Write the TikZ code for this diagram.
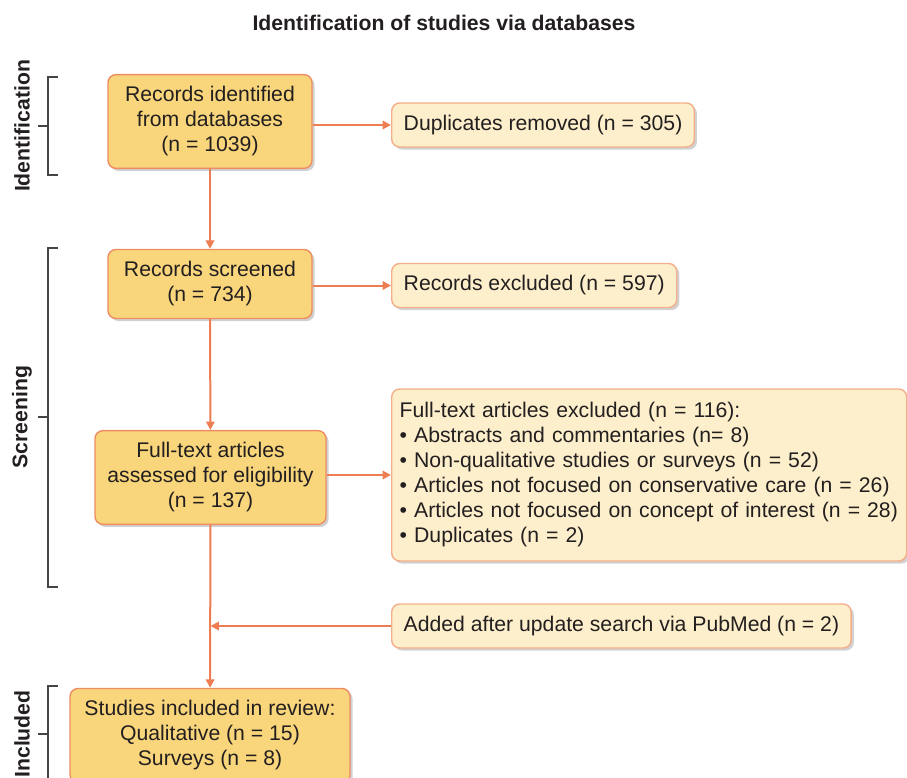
\documentclass[tikz,border=0pt]{standalone}
\usepackage{fontspec}
\setmainfont{Liberation Sans}
\usepackage{xcolor}
\usepackage{tikz}
\usetikzlibrary{positioning,arrows.meta,shadows,calc}
\definecolor{prOrange}{HTML}{EE7D52}
\definecolor{prMain}{HTML}{F9D67B}
\definecolor{prMainD}{HTML}{EF8C62}
\definecolor{prSide}{HTML}{FDEFCB}
\definecolor{prSideD}{HTML}{F4AE8A}
\definecolor{prText}{HTML}{231F20}
\definecolor{prGray}{HTML}{444444}
\tikzset{
  pr-box/.style={
    line width=0.7pt, rounded corners=4pt,
    font=\fontsize{10.6}{12.5}\selectfont, text=prText,
    inner sep=6pt,
    drop shadow={shadow xshift=1.3pt, shadow yshift=-1.3pt,
      fill=black, opacity=0.18}
  },
  pr-main/.style={pr-box, draw=prMainD, fill=prMain, align=center},
  pr-side/.style={pr-box, draw=prSideD, fill=prSide, align=left,
    anchor=west, minimum height=22pt},
  pr-flow/.style={-{Triangle[length=4.2pt,width=4.2pt]},
    line width=1pt, draw=prOrange},
  pr-bracket/.style={draw=prGray, line width=0.6pt},
  pr-phase/.style={font=\fontsize{10.6}{12.5}\selectfont\bfseries,
    text=prText, rotate=90},
  pr-title/.style={font=\fontsize{10.6}{12.5}\selectfont\bfseries,
    text=prText}
}
\begin{document}
\begin{tikzpicture}[x=0.5pt, y=-0.5pt]
\useasboundingbox (0,0) rectangle (907,778);

% Title
\node[pr-title, anchor=base] (title) at (444,30)
  {Identification of studies via databases};

% Phases
\node[pr-phase] (ident) at (22,126) {Identification};
\node[pr-phase] (screen) at (22,417) {Screening};
\node[pr-phase] (incl) at (22,734) {Included};
\draw[pr-bracket] (58,77) -- (48,77) -- (48,175) -- (58,175);
\draw[pr-bracket] (38,126) -- (48,126);
\draw[pr-bracket] (58,248) -- (48,248) -- (48,587) -- (58,587);
\draw[pr-bracket] (38,417) -- (48,417);
\draw[pr-bracket] (58,686) -- (48,686) -- (48,790);
\draw[pr-bracket] (38,734) -- (48,734);

% Main flow
\node[pr-main, minimum width=102pt, minimum height=44.5pt] (records)
  at (210,121.5) {Records identified\\ from databases\\ (n = 1039)};
\node[pr-main, minimum width=102pt, minimum height=34.5pt] (screened)
  at (210,284) {Records screened\\ (n = 734)};
\node[pr-main, minimum width=115.5pt, minimum height=45.5pt] (fulltext)
  at (210.5,477.5) {Full-text articles\\ assessed for eligibility\\ (n = 137)};
\node[pr-main, minimum width=140pt, minimum height=47pt] (included)
  at (210,735.5) {Studies included in review:\\ Qualitative (n = 15)\\ Surveys (n = 8)};

% Side boxes
\node[pr-side] (dups) at (391,125) {Duplicates removed (n = 305)};
\node[pr-side] (excl) at (391,285.5) {Records excluded (n = 597)};
\node[pr-side, inner xsep=4pt, text width=249.5pt, minimum height=86pt]
  (ftexcl) at (391,475)
  {Full-text articles excluded (n = 116):\\
   • Abstracts and commentaries (n= 8)\\
   • Non-qualitative studies or surveys (n = 52)\\
   • Articles not focused on conservative care (n = 26)\\
   • Articles not focused on concept of interest (n = 28)\\
   • Duplicates (n = 2)};
\node[pr-side] (pubmed) at (391,626) {Added after update search via PubMed (n = 2)};

\draw[pr-flow] (records) -- (screened);
\draw[pr-flow] (screened) -- (fulltext);
\draw[pr-flow] (fulltext) -- (included);
\draw[pr-flow] (records.east |- dups.west) -- (dups.west);
\draw[pr-flow] (screened.east |- excl.west) -- (excl.west);
\draw[pr-flow] (fulltext.east |- ftexcl.west) -- (ftexcl.west);
\draw[pr-flow] (pubmed.west) -- (fulltext.south |- pubmed.west);
\end{tikzpicture}
\end{document}
